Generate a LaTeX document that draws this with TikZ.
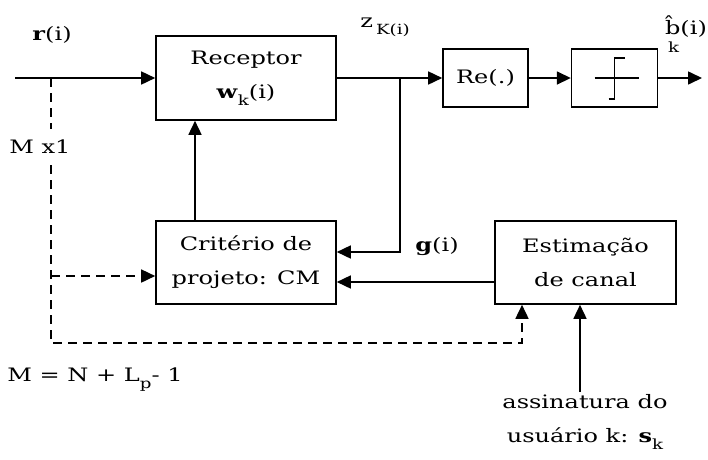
\documentclass[tikz,border=0pt]{standalone}
\usepackage{amsmath,amssymb}
\usepackage{fontspec}
\setmainfont{DejaVu Serif}[FakeStretch=1.3]
\usetikzlibrary{arrows.meta,positioning}
\newcommand{\lowidx}[1]{\raisebox{-7pt}{\fontsize{14}{14}\selectfont #1}}

\begin{document}
\begin{tikzpicture}[
  x=1pt, y=-1pt,
  font=\fontsize{18.5}{34}\selectfont,
  block/.style={draw, line width=1.6pt, align=center, inner sep=0pt},
  lbl/.style={inner sep=0pt, align=center},
  arrow/.style={-{Triangle[length=14pt, width=13pt]}, line width=1.6pt},
  dashline/.style={line width=1.6pt, dash pattern=on 9pt off 6pt},
  dasharrow/.style={arrow, dash pattern=on 9pt off 6pt}
]
\useasboundingbox (0,0) rectangle (708,459);
\node[block, minimum width=180pt, minimum height=84pt] (rec) at (246,78) {Receptor\\\textbf{w}\lowidx{k}(i)};
\node[block, minimum width=85pt, minimum height=58pt] (re) at (485.5,78) {Re(.)};
\node[block, minimum width=86pt, minimum height=58pt, right=42pt of re] (sgn) {};
\node[block, minimum width=180pt, minimum height=83pt] (crit) at (246,262.5) {Critério de\\projeto: CM};
\node[block, minimum width=181pt, minimum height=83pt] (est) at (585.5,262.5) {Estimação\\de canal};

\node[lbl] (rin) at (52,35) {\textbf{r}(i)};
\node[lbl, inner ysep=11pt] (dim) at (40,147) {M x1};
\node[lbl] (zk) at (385,27) {z\,\lowidx{K(i)}};
\node[lbl, align=left] (bk) at (686,34) {\^{b}(i)\\[-16pt]\hspace*{3pt}\fontsize{14}{14}\selectfont k};
\node[lbl] (gi) at (437,247) {\textbf{g}(i)};
\node[lbl] (mdef) at (95,380) {M = N + L\lowidx{p}- 1};
\node[lbl] (sig) at (585,422) {assinatura do\\usuário k: \textbf{s}\lowidx{k}};

\coordinate (in) at (15,78);
\coordinate (tap) at (51,78);
\coordinate (jn) at (400,78);
\coordinate (out) at (702,78);
\coordinate (dcorner) at (51,343);
\coordinate (dend) at (522,343);
\coordinate (sigin) at (580,392);
\coordinate (critin) at ([yshift=-13.5pt]crit.west);

\draw[arrow] (in) -- (rec.west);
\draw[arrow] (rec.east) -- (re.west);
\draw[arrow] (re) -- (sgn);
\draw[arrow] (sgn) -- (out);
\draw[arrow] (jn) |- ([yshift=10.5pt]crit.east);
\draw[arrow] ([yshift=-19.5pt]est.west) -- ([yshift=-19.5pt]crit.east);
\draw[arrow] ([xshift=-51pt]crit.north) -- ([xshift=-51pt]rec.south);
\draw[arrow] (sigin) -- (sigin |- est.south);
\draw[dashline] (tap) -- (tap |- dim.north);
\draw[dasharrow] (tap |- dim.south) -- (dcorner) -- (dend) -- (dend |- est.south);
\draw[dasharrow] (tap |- critin) -- (critin);
\draw[line width=1.6pt] ([xshift=-20pt]sgn.center) -- ([xshift=24pt]sgn.center);
\draw[line width=1.6pt] ([shift={(-6pt,-21pt)}]sgn.center) -- ++(6pt,0) -- ++(0,41pt) -- ++(10pt,0);
\end{tikzpicture}
\end{document}
